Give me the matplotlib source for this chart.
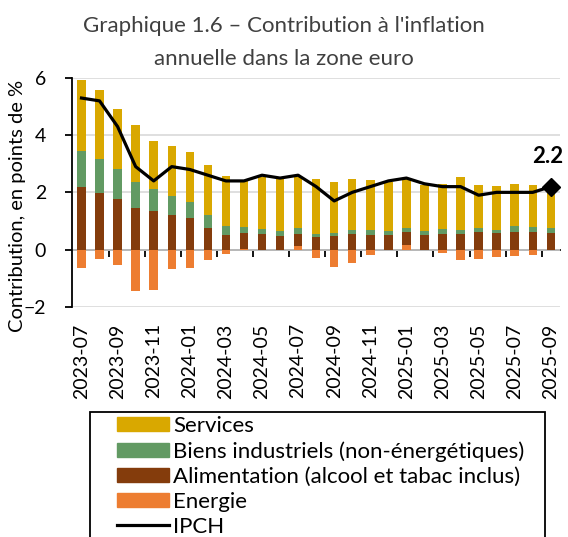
import matplotlib.pyplot as plt
import numpy as np
from matplotlib.patches import Patch, Rectangle
from matplotlib.lines import Line2D

plt.rcParams['font.family'] = ['Lato', 'DejaVu Sans']

# mois 2023-07 .. 2025-09
mois = ['2023-07', '2023-08', '2023-09', '2023-10', '2023-11', '2023-12',
        '2024-01', '2024-02', '2024-03', '2024-04', '2024-05', '2024-06',
        '2024-07', '2024-08', '2024-09', '2024-10', '2024-11', '2024-12',
        '2025-01', '2025-02', '2025-03', '2025-04', '2025-05', '2025-06',
        '2025-07', '2025-08', '2025-09']

energie = [-0.63, -0.34, -0.55, -1.46, -1.42, -0.69, -0.63, -0.37, -0.15, 0.02,
           0.0, 0.0, 0.12, -0.29, -0.61, -0.46, -0.19, 0.0, 0.17, 0.0,
           -0.11, -0.35, -0.34, -0.25, -0.23, -0.19, -0.02]
alimentation = [2.19, 1.98, 1.78, 1.46, 1.36, 1.20, 1.11, 0.77, 0.51, 0.55,
                0.55, 0.48, 0.43, 0.44, 0.46, 0.55, 0.51, 0.51, 0.44, 0.51,
                0.55, 0.54, 0.61, 0.57, 0.62, 0.61, 0.57]
biens = [1.27, 1.19, 1.05, 0.91, 0.76, 0.66, 0.54, 0.43, 0.32, 0.22,
         0.16, 0.17, 0.20, 0.11, 0.12, 0.14, 0.18, 0.13, 0.13, 0.14,
         0.16, 0.16, 0.16, 0.13, 0.19, 0.19, 0.20]
services = [2.48, 2.41, 2.07, 1.99, 1.69, 1.75, 1.75, 1.75, 1.75, 1.59,
            1.83, 1.82, 1.80, 1.91, 1.77, 1.78, 1.75, 1.71, 1.72, 1.61,
            1.59, 1.83, 1.49, 1.52, 1.47, 1.45, 1.45]
ipch = [5.3, 5.2, 4.3, 2.9, 2.4, 2.9, 2.8, 2.6, 2.4, 2.4, 2.6, 2.5, 2.6, 2.2,
        1.7, 2.0, 2.2, 2.4, 2.5, 2.3, 2.2, 2.2, 1.9, 2.0, 2.0, 2.0, 2.2]

series = [('Energie', energie, '#ED7D31'),
          ('Alimentation (alcool et tabac inclus)', alimentation, '#843C0C'),
          ('Biens industriels (non-énergétiques)', biens, '#629A63'),
          ('Services', services, '#D9A800')]

fig = plt.figure(figsize=(5.68, 5.37), dpi=100)
ax = fig.add_axes([0.1276, 0.4289, 0.858, 0.4258])

x = np.arange(len(mois))
pos = np.zeros(len(mois))
neg = np.zeros(len(mois))
for nom, vals, col in series:
    v = np.array(vals)
    bottom = np.where(v >= 0, pos, neg)
    ax.bar(x, v, 0.47, bottom=bottom, color=col, zorder=2)
    pos = pos + np.clip(v, 0, None)
    neg = neg + np.clip(v, None, 0)

ax.plot(x, ipch, color='black', lw=2.3, zorder=4)
ax.plot(x[-1], ipch[-1], marker='D', ms=9, color='black', zorder=5)
ax.annotate(f'{ipch[-1]}', (x[-1], ipch[-1]), xytext=(-2, 17), textcoords='offset points',
            ha='center', va='baseline', fontsize=16, fontweight='bold')

ax.set_xlim(-0.5, len(mois) - 0.5)
ax.set_ylim(-2, 6)
ax.set_yticks([-2, 0, 2, 4, 6])
ax.yaxis.grid(True, color='#d9d9d9', lw=1.2, zorder=0)
ax.set_axisbelow(True)
for s in ['top', 'right', 'bottom']:
    ax.spines[s].set_visible(False)
ax.spines['left'].set_linewidth(1.3)
ax.tick_params(axis='y', direction='out', length=5, width=1.3, pad=14, labelsize=14)
ax.set_xticks(x[::2])
ax.set_xticklabels(mois[::2], rotation=90)
ax.tick_params(axis='x', length=0, pad=12, labelsize=14)

# axe horizontal à zéro avec graduations
ax0 = ax.secondary_xaxis(0.25)
ax0.spines['bottom'].set_linewidth(1.3)
ax0.set_xticks(np.arange(1.5, len(mois) - 1, 2))
ax0.set_xticklabels([])
ax0.tick_params(direction='out', length=5, width=1.3)

fig.text(0.03, 1 - 206 / 537, 'Contribution, en points de %', rotation=90,
         ha='center', va='center', fontsize=14.5)
fig.text(0.5, 1 - 32 / 537, "Graphique 1.6 – Contribution à l'inflation",
         ha='center', va='baseline', fontsize=16, color='#404040')
fig.text(0.5, 1 - 65 / 537, "annuelle dans la zone euro",
         ha='center', va='baseline', fontsize=16, color='#404040')

# légende (cadre dessiné à part, coupé en bas comme l'original)
handles = [Patch(color=c) for _, _, c in series[::-1]]
labels = [n for n, _, _ in series[::-1]]
handles.append(Line2D([], [], color='black', lw=2.3))
labels.append('IPCH')
fig.legend(handles, labels, loc='upper left', bbox_to_anchor=(117 / 568, 1 - 416 / 537),
           frameon=False, fontsize=16, handlelength=2.35, handleheight=0.63,
           labelspacing=0.23, borderpad=0, borderaxespad=0, handletextpad=0.18)
fig.add_artist(Rectangle((90 / 568, -0.02), (545 - 90) / 568, (1 - 412 / 537) + 0.02,
                         transform=fig.transFigure, fill=False, ec='black', lw=1.3))

fig.savefig('out.png', dpi=100)
